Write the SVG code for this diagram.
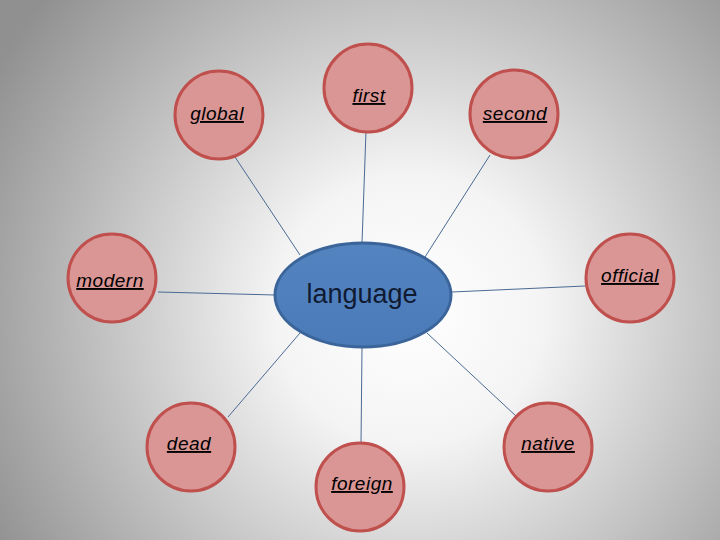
<svg xmlns="http://www.w3.org/2000/svg" width="720" height="540" viewBox="0 0 720 540">
  <defs>
    <radialGradient id="bg" cx="410" cy="310" r="480" gradientUnits="userSpaceOnUse">
      <stop offset="0" stop-color="#ffffff"/>
      <stop offset="0.28" stop-color="#f4f4f4"/>
      <stop offset="1" stop-color="#909090"/>
    </radialGradient>
    <linearGradient id="ell" x1="0" y1="0" x2="0" y2="1">
      <stop offset="0" stop-color="#5484c0"/>
      <stop offset="1" stop-color="#4a7bb8"/>
    </linearGradient>
    <style>
      .node circle { fill: #d99695; stroke: #c0504d; stroke-width: 3; }
      .lbl { font-family: "Liberation Sans", Arial, sans-serif; font-size: 19px; font-style: italic; text-decoration: underline; fill: #000; text-anchor: middle; letter-spacing: 0.5px; }
      .conn line { stroke: #4a6a92; stroke-width: 1; }
    </style>
  </defs>
  <rect width="720" height="540" fill="url(#bg)"/>
  <g id="connectors" class="conn">
    <line x1="235" y1="157" x2="300" y2="255"/>
    <line x1="366" y1="131" x2="362" y2="243"/>
    <line x1="490" y1="155" x2="425" y2="257"/>
    <line x1="158" y1="292" x2="275" y2="295"/>
    <line x1="452" y1="292" x2="585" y2="286"/>
    <line x1="228" y1="417" x2="300" y2="333"/>
    <line x1="362" y1="348" x2="361" y2="443"/>
    <line x1="427" y1="333" x2="517" y2="417"/>
  </g>
  <g id="language">
    <ellipse cx="363" cy="295" rx="88" ry="52" fill="url(#ell)" stroke="#3b659a" stroke-width="3"/>
    <text x="362" y="303" font-family="'Liberation Sans', Arial, sans-serif" font-size="27" fill="#101a33" text-anchor="middle">language</text>
  </g>
  <g id="global" class="node"><circle cx="219" cy="115" r="44"/><text class="lbl" x="217" y="120">global</text></g>
  <g id="first" class="node"><circle cx="368" cy="88" r="44"/><text class="lbl" x="369" y="102">first</text></g>
  <g id="second" class="node"><circle cx="514" cy="114" r="44"/><text class="lbl" x="515" y="120">second</text></g>
  <g id="modern" class="node"><circle cx="112" cy="278" r="44"/><text class="lbl" x="110" y="287">modern</text></g>
  <g id="official" class="node"><circle cx="630" cy="278" r="44"/><text class="lbl" x="630" y="282">official</text></g>
  <g id="dead" class="node"><circle cx="191" cy="447" r="44"/><text class="lbl" x="189" y="450">dead</text></g>
  <g id="native" class="node"><circle cx="548" cy="447" r="44"/><text class="lbl" x="548" y="450">native</text></g>
  <g id="foreign" class="node"><circle cx="360" cy="487" r="44"/><text class="lbl" x="362" y="490">foreign</text></g>
</svg>
